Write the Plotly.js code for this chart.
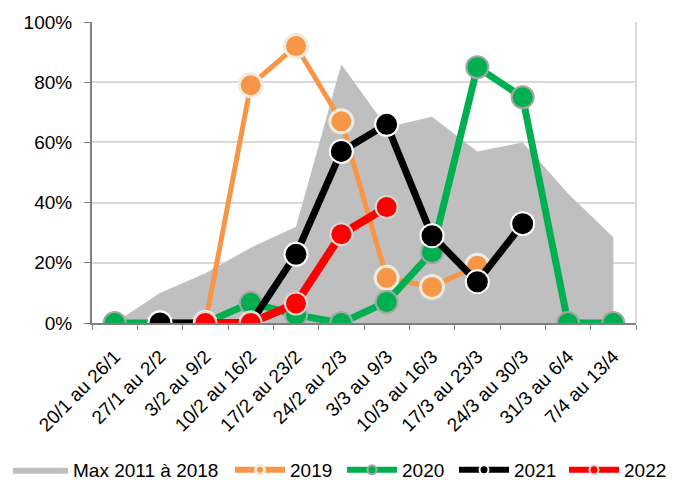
<!DOCTYPE html>
<html><head><meta charset="utf-8">
<script src="https://cdn.plot.ly/plotly-3.0.1.min.js"></script>
<style>body{margin:0;background:#fff}#c{width:678px;height:480px}</style>
</head><body><div id="c"></div>
<script>
const categories = ["20/1 au 26/1","27/1 au 2/2","3/2 au 9/2","10/2 au 16/2","17/2 au 23/2","24/2 au 2/3","3/3 au 9/3","10/3 au 16/3","17/3 au 23/3","24/3 au 30/3","31/3 au 6/4","7/4 au 13/4"];
const maxHist = [0, 10, 16.5, 25, 32, 86, 65, 68.5, 57, 60, 43, 28.5];
const y2019 = [null, 0, 0, 79, 92, 67, 15, 12, 19, null, null, null];
const y2020 = [0, 0, 0, 6.7, 2.7, 0, 7, 23.5, 85, 75, 0, 0];
const y2021 = [null, 0, 0, 0, 22.8, 57, 66, 29, 13.7, 33, null, null];
const y2022 = [null, null, 0, 0, 6.5, 29.5, 38.5, null, null, null, null, null];
const legendNames = ["Max 2011 à 2018", "2019", "2020", "2021", "2022"];

const pct = a => a.map(v => v === null ? null : v / 100);
const font = "Liberation Sans, Arial, sans-serif";

const styles = [
  {line: "#f79646", w: 5, mk: "#f79646", ring: "#eeece1", size: 23, rw: 3},
  {line: "#00b050", w: 7, mk: "#00b050", ring: "#a6a6a6", size: 22, rw: 2},
  {line: "#000000", w: 7, mk: "#000000", ring: "#ffffff", size: 23, rw: 2},
  {line: "#ff0000", w: 8, mk: "#ff0000", ring: "#d9d9d9", size: 22, rw: 2}
];
const series = [y2019, y2020, y2021, y2022];

const traces = [
  {x: categories, y: pct(maxHist), name: legendNames[0], type: "scatter", mode: "lines",
   fill: "tozeroy", fillcolor: "#bfbfbf", line: {color: "#bfbfbf", width: 0},
   showlegend: true, legend: "legend"}
];
series.forEach((s, i) => {
  const st = styles[i];
  traces.push({x: categories, y: pct(s), name: legendNames[i + 1], type: "scatter",
    mode: "lines+markers", showlegend: false,
    line: {color: st.line, width: st.w},
    marker: {size: st.size, color: st.mk, line: {color: st.ring, width: st.rw}}});
});
// legend-only entries with small markers, like the reference legend
const legendIds = ["legend2", "legend3", "legend4", "legend5"];
series.forEach((s, i) => {
  const st = styles[i];
  traces.push({x: [null], y: [null], name: legendNames[i + 1], type: "scatter",
    mode: "lines+markers", showlegend: true, legend: legendIds[i],
    line: {color: st.line, width: 6},
    marker: {size: 9, color: st.mk, line: {color: st.ring, width: i === 0 ? 3 : 2}}});
});

function leg(px, iw) {
  return {orientation: "h", x: px / 678, xanchor: "left", xref: "container",
          y: 10 / 480, yanchor: "middle", yref: "container",
          font: {family: font, size: 19, color: "#000"},
          itemwidth: iw, bgcolor: "rgba(0,0,0,0)", borderwidth: 0};
}

const layout = {
  width: 678, height: 480,
  margin: {l: 10, r: 10, t: 22, b: 157},
  paper_bgcolor: "#ffffff", plot_bgcolor: "#ffffff",
  font: {family: font, size: 19, color: "#000"},
  showlegend: true,
  legend: leg(8, 55),
  legend2: leg(230, 50),
  legend3: leg(342, 50),
  legend4: leg(454, 50),
  legend5: leg(564, 50),
  xaxis: {type: "category", tickangle: -45, tickson: "boundaries", ticks: "outside",
          ticklen: 5, tickcolor: "#808080", showline: true, linecolor: "#808080", linewidth: 2,
          showgrid: false, zeroline: false, automargin: false, ticklabelstandoff: 13,
          domain: [82 / 658, 626 / 658],
          tickfont: {family: font, size: 19, color: "#000"}, range: [-0.5, 11.5]},
  yaxis: {range: [0, 1], tickvals: [0, 0.2, 0.4, 0.6, 0.8, 1], tickformat: ".0%",
          ticks: "outside", ticklen: 6, tickcolor: "#808080", showline: true,
          linecolor: "#808080", linewidth: 2, gridcolor: "#d9d9d9", gridwidth: 2,
          zeroline: false, automargin: false, ticklabelstandoff: 8,
          tickfont: {family: font, size: 19, color: "#000"}},
  shapes: [{type: "line", xref: "x domain", yref: "y domain", x0: 1, x1: 1, y0: 0, y1: 1,
            line: {color: "#d9d9d9", width: 2}}]
};
Plotly.newPlot("c", traces, layout, {displayModeBar: false, staticPlot: true});
</script>
</body></html>
